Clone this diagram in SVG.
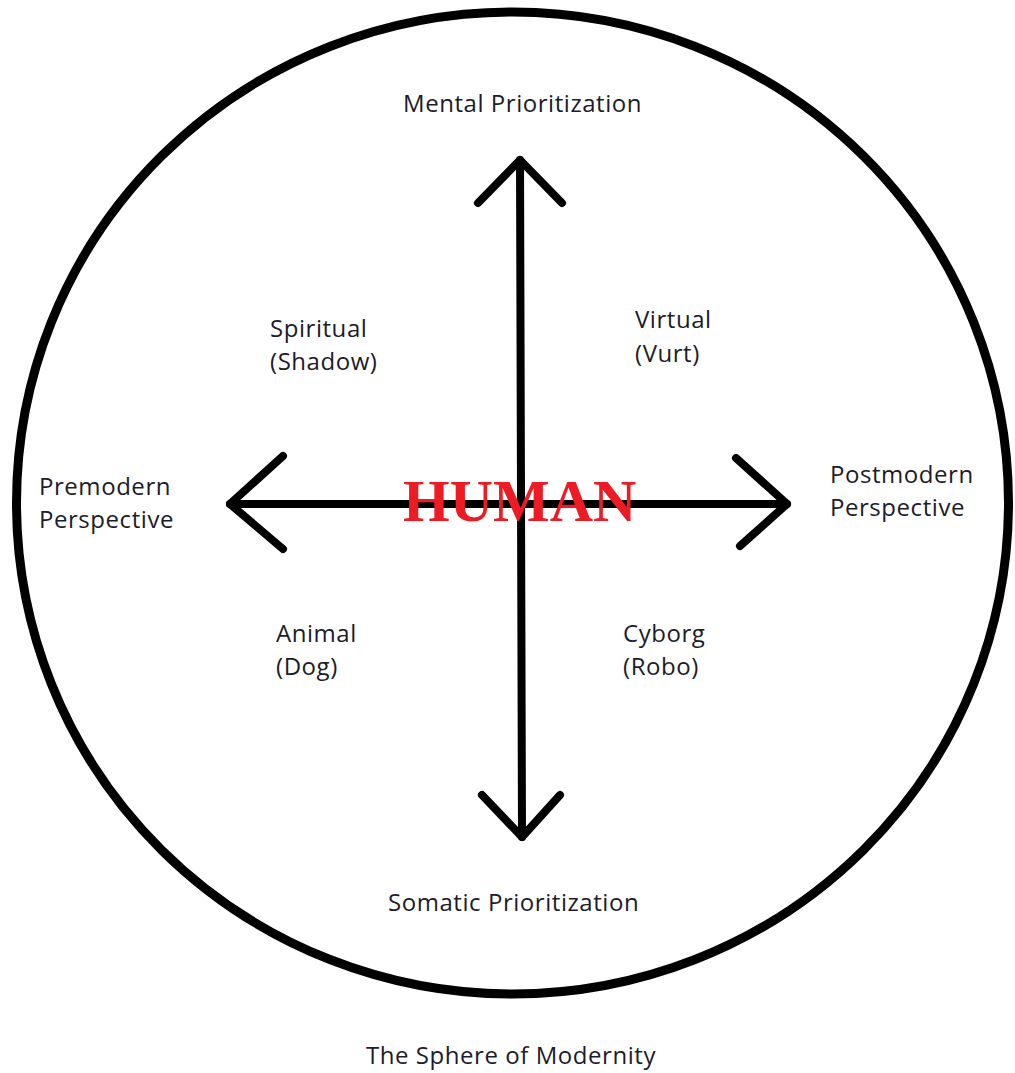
<svg xmlns="http://www.w3.org/2000/svg" width="1015" height="1073" viewBox="0 0 1015 1073">
<style>
.lbl{font-family:"Open Sans","Noto Sans",sans-serif;font-size:24px;letter-spacing:0.55px;fill:#1c1c2a}
.ln{stroke:#000;stroke-width:8;stroke-linecap:round;stroke-linejoin:round;fill:none}
.hum{font-family:"Liberation Serif","Times New Roman",serif;font-weight:bold;font-size:60px;fill:#ed1c24}
</style>
<rect width="1015" height="1073" fill="#fff"/>
<g id="sphere"><ellipse cx="512.5" cy="503" rx="496" ry="491" fill="none" stroke="#000" stroke-width="9"/></g>
<g id="connectors">
<path class="ln" d="M520 160 L522 837"/>
<path class="ln" d="M478 203 L520 160 L562 203"/>
<path class="ln" d="M482 795 L522 837 L560 795"/>
<path class="ln" d="M230 504 L787 504"/>
<path class="ln" d="M283 456 L230 504 L283 549"/>
<path class="ln" d="M736 458 L787 504 L740 546"/>
</g>
<g id="human"><text class="hum" x="403" y="521">HUMAN</text></g>
<g id="mental"><text class="lbl" x="403" y="112">Mental Prioritization</text></g>
<g id="somatic"><text class="lbl" x="388" y="911">Somatic Prioritization</text></g>
<g id="spiritual"><text class="lbl" x="270" y="337">Spiritual</text><text class="lbl" x="270" y="370">(Shadow)</text></g>
<g id="virtual"><text class="lbl" x="635" y="328">Virtual</text><text class="lbl" x="635" y="362">(Vurt)</text></g>
<g id="premodern"><text class="lbl" x="39" y="495">Premodern</text><text class="lbl" x="39" y="528">Perspective</text></g>
<g id="postmodern"><text class="lbl" x="830" y="483">Postmodern</text><text class="lbl" x="830" y="516">Perspective</text></g>
<g id="animal"><text class="lbl" x="276" y="642">Animal</text><text class="lbl" x="276" y="675">(Dog)</text></g>
<g id="cyborg"><text class="lbl" x="623" y="642">Cyborg</text><text class="lbl" x="623" y="675">(Robo)</text></g>
<g id="title"><text class="lbl" x="366" y="1064">The Sphere of Modernity</text></g>
</svg>
